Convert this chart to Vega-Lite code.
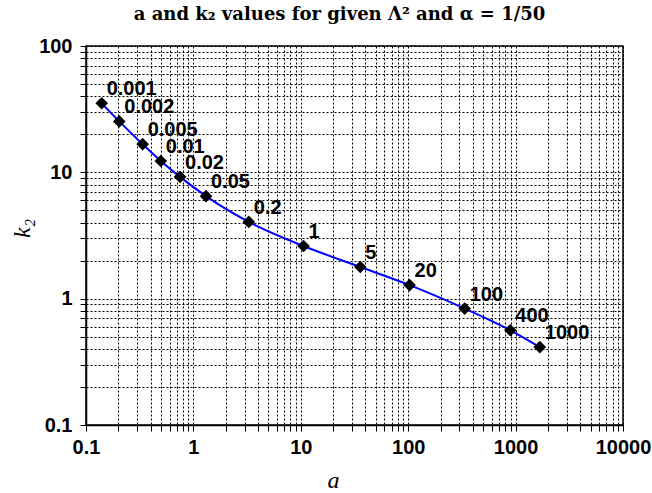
{
  "$schema": "https://vega.github.io/schema/vega-lite/v6.json",
  "width": 537,
  "height": 379,
  "autosize": {"type": "none"},
  "padding": {"left": 86, "top": 46, "right": 29, "bottom": 68},
  "background": "white",
  "title": {
    "text": "a and k₂ values for given Λ² and α = 1/50",
    "font": "DejaVu Serif",
    "fontSize": 18,
    "fontWeight": "bold",
    "color": "black",
    "anchor": "middle",
    "dx": -15,
    "offset": 12
  },
  "config": {
    "view": {"stroke": "black", "strokeWidth": 1.5},
    "axis": {
      "domainColor": "black",
      "domainWidth": 1.5,
      "tickColor": "black",
      "tickSize": 6,
      "grid": true,
      "gridColor": "black",
      "gridDash": [2, 2],
      "gridWidth": 1,
      "gridOpacity": 1,
      "labelFont": "Liberation Sans",
      "labelFontWeight": "bold",
      "labelFontSize": 20,
      "labelColor": "black",
      "labelOverlap": false,
      "labelFlush": false,
      "titleFont": "Liberation Serif",
      "titleFontStyle": "italic",
      "titleFontWeight": "normal",
      "titleFontSize": 24,
      "titleColor": "black"
    }
  },
  "data": {
    "values": [
      {"a": 0.140, "k": 35.2, "label": "0.001"},
      {"a": 0.204, "k": 25.3, "label": "0.002"},
      {"a": 0.337, "k": 16.7, "label": "0.005"},
      {"a": 0.497, "k": 12.3, "label": "0.01"},
      {"a": 0.751, "k": 9.21, "label": "0.02"},
      {"a": 1.31, "k": 6.48, "label": "0.05"},
      {"a": 3.28, "k": 4.05, "label": "0.2"},
      {"a": 10.6, "k": 2.61, "label": "1"},
      {"a": 35.8, "k": 1.78, "label": "5"},
      {"a": 103, "k": 1.28, "label": "20"},
      {"a": 336, "k": 0.835, "label": "100"},
      {"a": 894, "k": 0.562, "label": "400"},
      {"a": 1679, "k": 0.414, "label": "1000"}
    ]
  },
  "encoding": {
    "x": {
      "field": "a",
      "type": "quantitative",
      "scale": {"type": "log", "domain": [0.1, 10000], "nice": false},
      "axis": {
        "title": "a",
        "titleX": 247,
        "titleY": 62,
        "titleAlign": "center",
        "titleBaseline": "alphabetic",
        "labelPadding": 6,
        "format": "~g",
        "values": [0.1,0.2,0.3,0.4,0.5,0.6,0.7,0.8,0.9,1,2,3,4,5,6,7,8,9,10,20,30,40,50,60,70,80,90,100,200,300,400,500,600,700,800,900,1000,2000,3000,4000,5000,6000,7000,8000,9000,10000],
        "labelExpr": "indexof([0.1,1,10,100,1000,10000], datum.value) >= 0 ? datum.label : ''"
      }
    },
    "y": {
      "field": "k",
      "type": "quantitative",
      "scale": {"type": "log", "domain": [0.1, 100], "nice": false},
      "axis": {
        "title": "k₂",
        "titleX": -64,
        "titleY": 182,
        "titleAngle": -90,
        "titleAlign": "center",
        "titleBaseline": "middle",
        "labelPadding": 8,
        "format": "~g",
        "values": [0.1,0.2,0.3,0.4,0.5,0.6,0.7,0.8,0.9,1,2,3,4,5,6,7,8,9,10,20,30,40,50,60,70,80,90,100],
        "labelExpr": "indexof([0.1,1,10,100], datum.value) >= 0 ? datum.label : ''"
      }
    }
  },
  "layer": [
    {"mark": {"type": "line", "color": "#0000ff", "strokeWidth": 2, "interpolate": "monotone"}},
    {"mark": {"type": "point", "shape": "diamond", "filled": true, "color": "black", "opacity": 1, "size": 160}},
    {
      "mark": {"type": "text", "align": "left", "baseline": "alphabetic", "dx": 5, "dy": -8, "font": "Liberation Sans", "fontWeight": "bold", "fontSize": 20, "color": "black"},
      "encoding": {"text": {"field": "label"}}
    }
  ]
}
